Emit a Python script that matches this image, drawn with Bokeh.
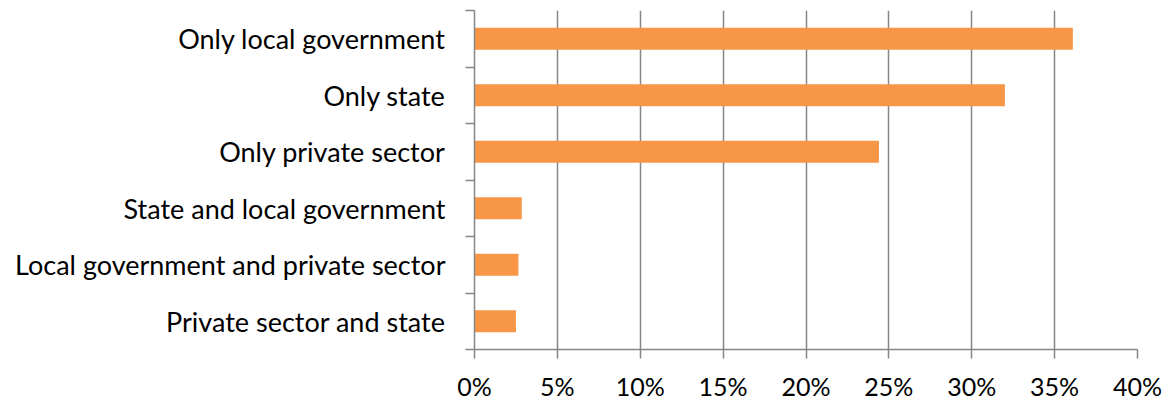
from bokeh.plotting import figure
from bokeh.models import FixedTicker, PrintfTickFormatter, Range1d
from bokeh.embed import file_html
from bokeh.resources import INLINE

categories = ["Only local government", "Only state", "Only private sector",
              "State and local government", "Local government and private sector",
              "Private sector and state"]
values = [36.1, 32.0, 24.4, 2.85, 2.65, 2.5]
x_ticks = [0, 5, 10, 15, 20, 25, 30, 35, 40]

n = len(categories)
# top category at highest position
ypos = [n - i for i in range(n)]

FONT = "Lato"
GRID = "#868686"

p = figure(frame_width=663, frame_height=339, output_backend="svg", toolbar_location=None,
           x_range=Range1d(0, 40), y_range=Range1d(0.5, n + 0.5),
           min_border_left=474, min_border_right=37, min_border_top=10,
           min_border_bottom=0)
p.outline_line_color = None
p.background_fill_color = "white"
p.border_fill_color = "white"

p.hbar(y=ypos, right=values, left=0, height=0.39, color="#F79646", line_color=None)

# x axis
p.xaxis.ticker = FixedTicker(ticks=x_ticks)
p.xaxis.formatter = PrintfTickFormatter(format="%d%%")
p.xaxis.major_tick_out = 9
p.xaxis.major_tick_in = 0
p.xaxis.minor_tick_out = 0
p.xaxis.minor_tick_in = 0
p.xaxis.axis_line_color = GRID
p.xaxis.major_tick_line_color = GRID
p.xaxis.axis_line_width = 1.5
p.xaxis.major_tick_line_width = 1.5
p.xaxis.major_label_text_font = FONT
p.xaxis.major_label_text_font_size = "25px"
p.xaxis.major_label_text_color = "black"
p.xaxis.major_label_standoff = 12

# y axis
p.yaxis.ticker = FixedTicker(ticks=ypos, minor_ticks=[k + 0.5 for k in range(n + 1)])
p.yaxis.major_label_overrides = {y: c for y, c in zip(ypos, categories)}
p.yaxis.major_tick_out = 0
p.yaxis.major_tick_in = 0
p.yaxis.minor_tick_out = 9
p.yaxis.minor_tick_in = 0
p.yaxis.minor_tick_line_color = GRID
p.yaxis.minor_tick_line_width = 1.5
p.yaxis.axis_line_color = GRID
p.yaxis.axis_line_width = 1.5
p.yaxis.major_label_text_font = FONT
p.yaxis.major_label_text_font_size = "27px"
p.yaxis.major_label_text_color = "black"
p.yaxis.major_label_standoff = 20

p.xgrid.ticker = FixedTicker(ticks=x_ticks)
p.xgrid.grid_line_color = GRID
p.xgrid.grid_line_width = 1.5
p.ygrid.grid_line_color = None

open("out.html", "w").write(file_html(p, INLINE))
